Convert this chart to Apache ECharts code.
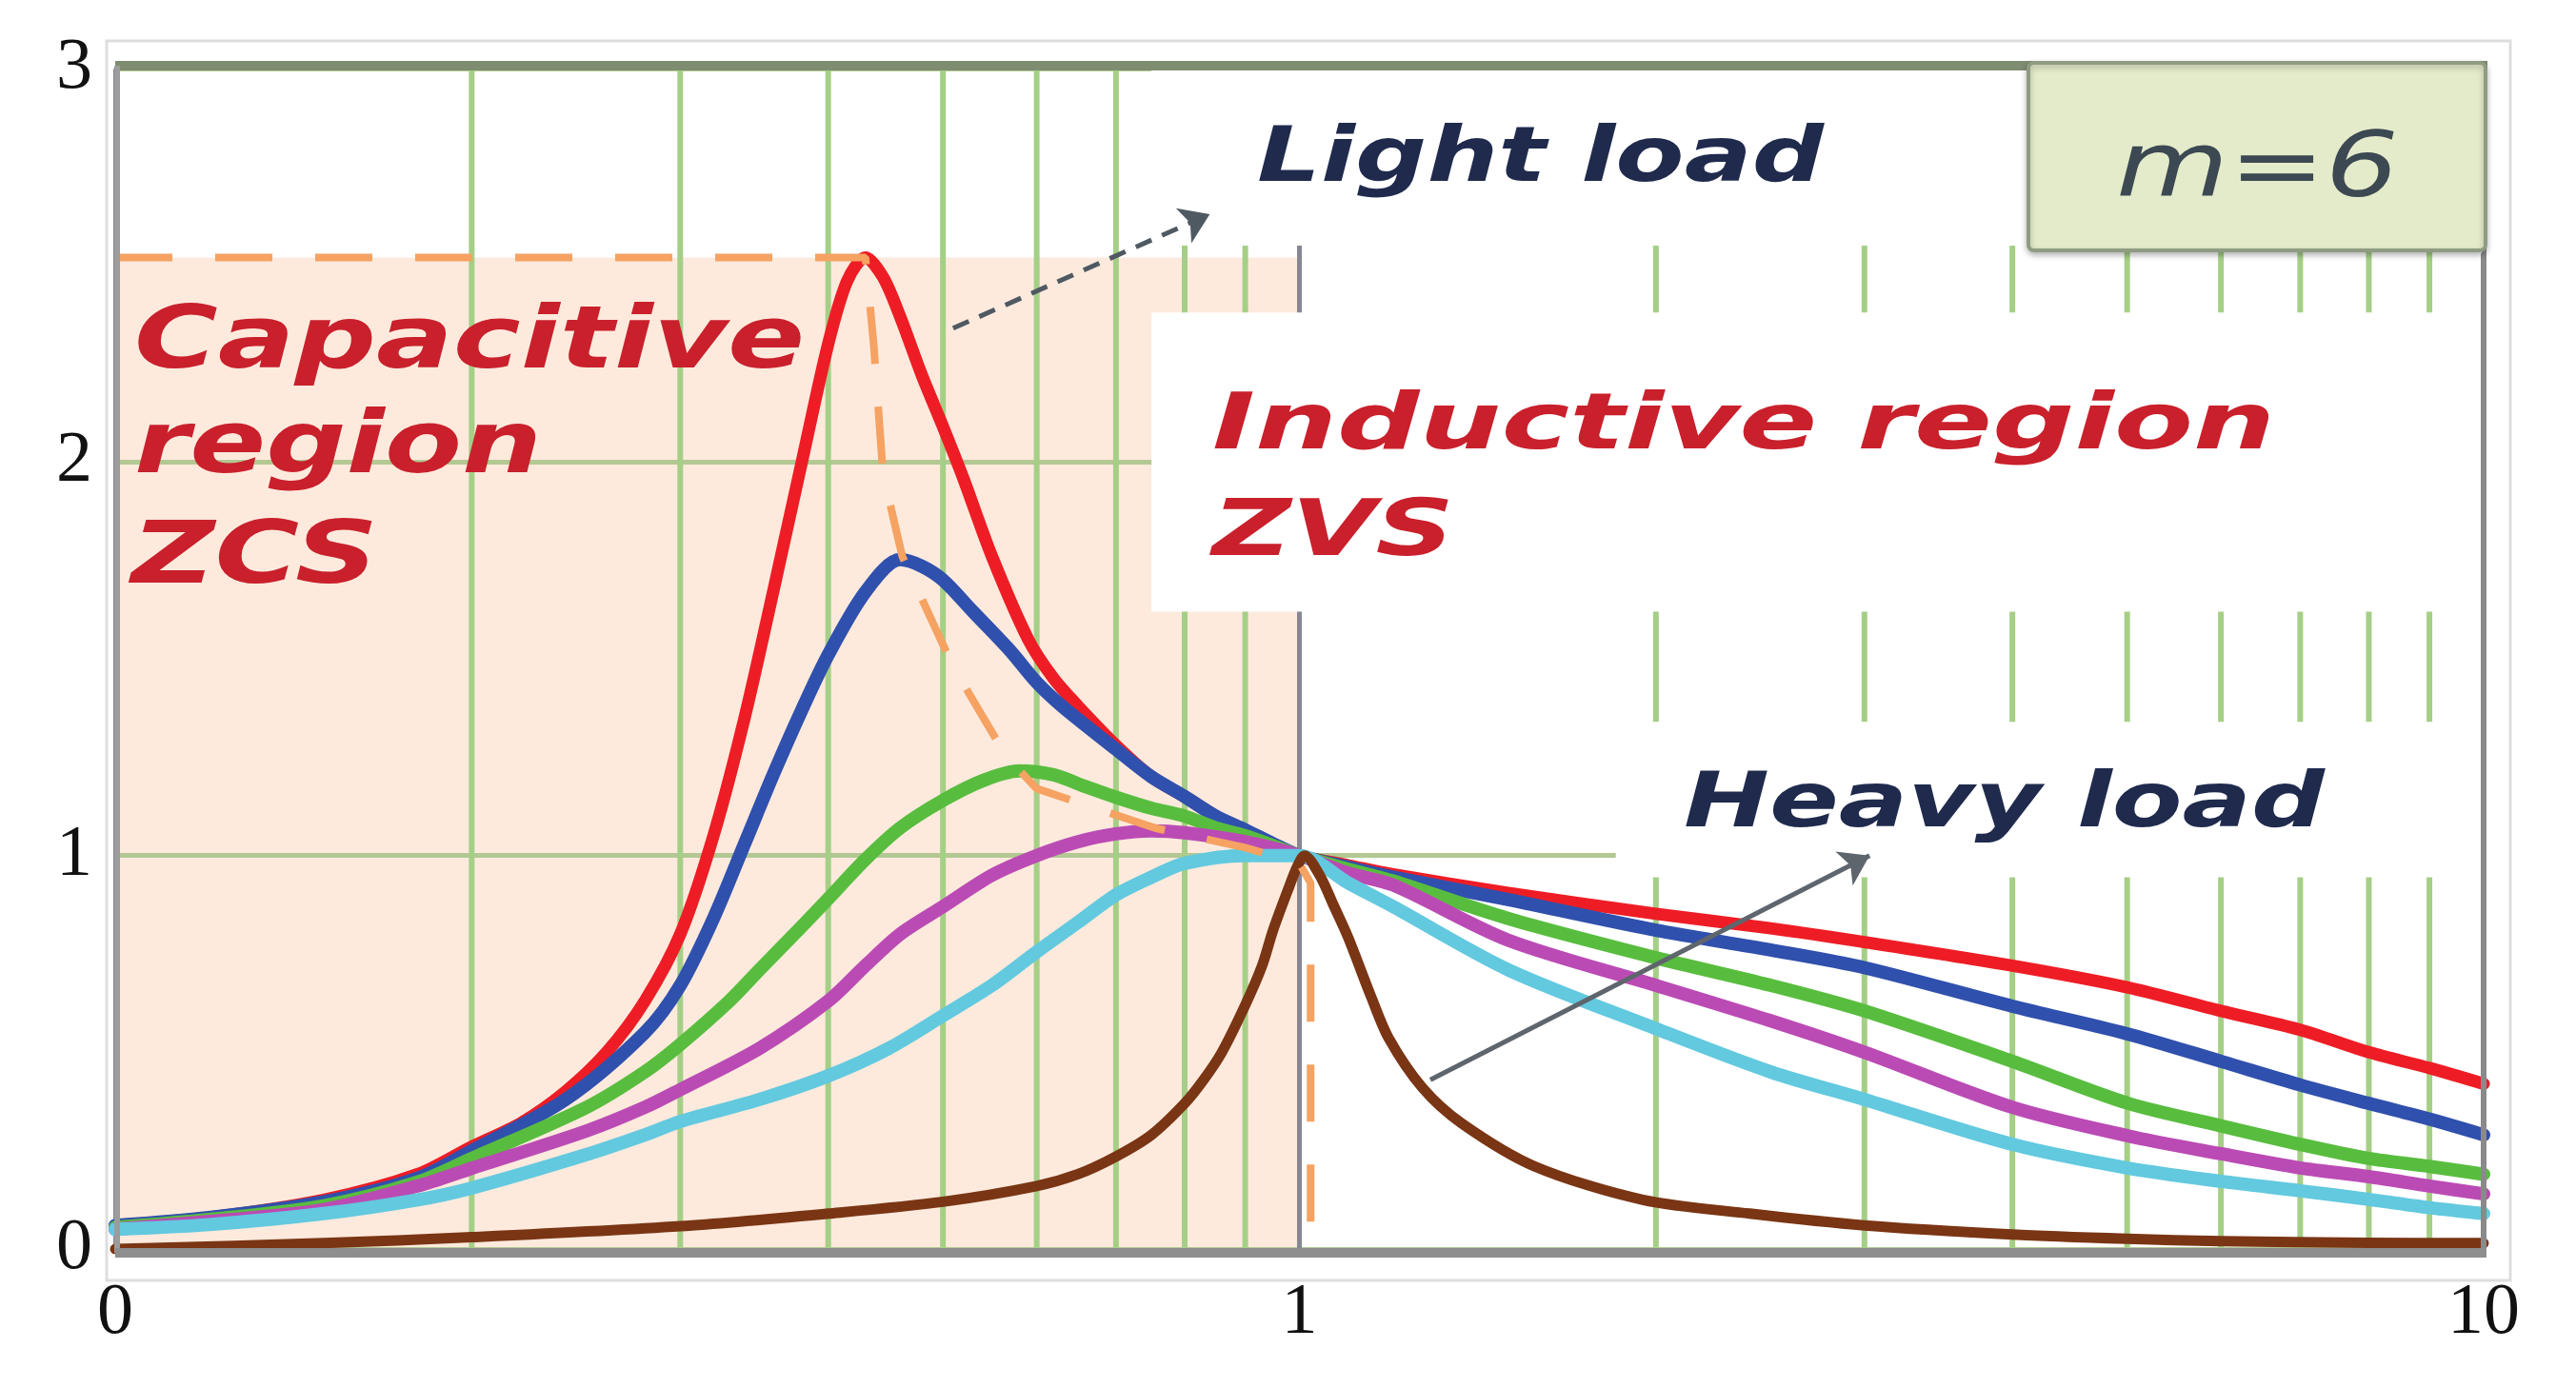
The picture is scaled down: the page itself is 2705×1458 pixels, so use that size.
<!DOCTYPE html>
<html>
<head>
<meta charset="utf-8">
<title>LLC gain curves, m=6</title>
<script src="https://cdn.jsdelivr.net/npm/echarts@6/dist/echarts.min.js"></script>
<style>
  html, body { margin: 0; padding: 0; background: #fff; }
  #chart { width: 2705px; height: 1458px; }
</style>
</head>
<body>
<div id="chart"></div>
<script>
// x: normalized switching frequency (log axis), y: voltage gain
// values
const xTicks = [0.1, 1, 10]
const xTickLabels = ['0', '1', '10']
const yTickLabels = ['0', '1', '2', '3']
const xMinorLines = [0.2, 0.3, 0.4, 0.5, 0.6, 0.7, 0.8, 0.9, 2, 3, 4, 5, 6, 7, 8, 9]

const redCurve = [
  [0.1, 0.06], [0.12, 0.08], [0.15, 0.125], [0.18, 0.19], [0.2, 0.26], [0.22, 0.32], [0.24, 0.4],
  [0.26, 0.5], [0.28, 0.63], [0.3, 0.8], [0.32, 1.05], [0.34, 1.35], [0.36, 1.68], [0.38, 2.0],
  [0.4, 2.3], [0.415, 2.46], [0.43, 2.52], [0.445, 2.47], [0.46, 2.37], [0.48, 2.22],
  [0.5, 2.09], [0.52, 1.96], [0.55, 1.76], [0.59, 1.55], [0.62, 1.45], [0.65, 1.38], [0.7, 1.28],
  [0.75, 1.2], [0.8, 1.15], [0.85, 1.1], [0.9, 1.065], [0.95, 1.03], [1, 1], [1.1, 0.975],
  [1.2, 0.952], [1.5, 0.905], [2, 0.852], [2.5, 0.815], [3, 0.78], [4, 0.72], [5, 0.665],
  [6, 0.605], [7, 0.557], [8, 0.5], [9, 0.46], [10, 0.42]
]
const blueCurve = [
  [0.1, 0.06], [0.12, 0.08], [0.15, 0.12], [0.18, 0.18], [0.2, 0.25], [0.24, 0.38], [0.28, 0.55],
  [0.3, 0.67], [0.32, 0.84], [0.34, 1.03], [0.36, 1.21], [0.38, 1.37], [0.4, 1.51], [0.43, 1.67],
  [0.46, 1.752], [0.48, 1.735], [0.5, 1.7], [0.53, 1.62], [0.57, 1.52], [0.6, 1.44], [0.63, 1.38],
  [0.7, 1.27], [0.75, 1.2], [0.8, 1.15], [0.85, 1.1], [0.9, 1.065], [0.95, 1.03], [1, 1],
  [1.1, 0.97], [1.2, 0.945], [1.5, 0.888], [2, 0.81], [2.5, 0.76], [3, 0.715], [4, 0.617],
  [5, 0.547], [6, 0.477], [7, 0.417], [8, 0.37], [9, 0.33], [10, 0.29]
]
const greenCurve = [
  [0.1, 0.055], [0.12, 0.075], [0.15, 0.11], [0.18, 0.17], [0.2, 0.23], [0.25, 0.36], [0.28, 0.45],
  [0.3, 0.52], [0.33, 0.63], [0.35, 0.71], [0.38, 0.82], [0.4, 0.89], [0.43, 0.99], [0.46, 1.07],
  [0.5, 1.14], [0.54, 1.19], [0.58, 1.215], [0.62, 1.205], [0.66, 1.175], [0.7, 1.148], [0.75, 1.12],
  [0.8, 1.1], [0.85, 1.07], [0.9, 1.05], [0.95, 1.025], [1, 1], [1.1, 0.965], [1.2, 0.935],
  [1.5, 0.84], [2, 0.74], [2.5, 0.67], [3, 0.605], [4, 0.477], [5, 0.371], [6, 0.313],
  [7, 0.266], [8, 0.23], [9, 0.21], [10, 0.19]
]
const magentaCurve = [
  [0.1, 0.05], [0.12, 0.07], [0.15, 0.1], [0.18, 0.16], [0.2, 0.205], [0.25, 0.3], [0.28, 0.36],
  [0.3, 0.405], [0.35, 0.51], [0.4, 0.63], [0.43, 0.72], [0.46, 0.8], [0.5, 0.87], [0.55, 0.95],
  [0.6, 1.0], [0.65, 1.035], [0.7, 1.055], [0.75, 1.063], [0.8, 1.058], [0.9, 1.035], [1, 1],
  [1.1, 0.955], [1.2, 0.925], [1.5, 0.785], [2, 0.67], [2.5, 0.58], [3, 0.5], [4, 0.36],
  [5, 0.288], [6, 0.242], [7, 0.206], [8, 0.184], [9, 0.16], [10, 0.14]
]
const cyanCurve = [
  [0.1, 0.05], [0.12, 0.062], [0.15, 0.09], [0.18, 0.125], [0.2, 0.155], [0.25, 0.24], [0.28, 0.29],
  [0.3, 0.324], [0.35, 0.38], [0.4, 0.44], [0.45, 0.51], [0.5, 0.593], [0.55, 0.67], [0.6, 0.755],
  [0.65, 0.83], [0.7, 0.9], [0.75, 0.945], [0.8, 0.98], [0.9, 1.0], [1, 1], [1.1, 0.93],
  [1.2, 0.87], [1.5, 0.71], [2, 0.56], [2.5, 0.45], [3, 0.38], [4, 0.266], [5, 0.206],
  [6, 0.172], [7, 0.148], [8, 0.126], [9, 0.105], [10, 0.09]
]
const brownCurve = [
  [0.1, 0.0], [0.15, 0.015], [0.2, 0.03], [0.3, 0.058], [0.4, 0.09], [0.5, 0.12], [0.6, 0.16],
  [0.65, 0.19], [0.7, 0.235], [0.75, 0.29], [0.8, 0.37], [0.83, 0.43], [0.86, 0.5], [0.9, 0.62],
  [0.93, 0.72], [0.95, 0.81], [0.98, 0.92], [0.995, 0.97], [1.01, 1.0], [1.04, 0.95], [1.07, 0.87],
  [1.1, 0.79], [1.15, 0.64], [1.19, 0.535], [1.27, 0.41], [1.37, 0.32], [1.58, 0.21],
  [1.95, 0.125], [2.4, 0.09], [3, 0.06], [4, 0.037], [5, 0.026], [6, 0.02], [8, 0.016], [10, 0.015]
]
// dashed orange line through the peaks (boundary between ZCS and ZVS)
const peakLocus = [
  [0.1, 2.52], [0.43, 2.52], [0.437, 2.3], [0.445, 1.97], [0.462, 1.76], [0.51, 1.48],
  [0.566, 1.25], [0.6, 1.17], [0.755, 1.07], [0.9, 1.02], [1.0, 0.98], [1.022, 0.93], [1.022, 0.05]
]
// annotation arrows [from, to]
const lightLoadArrow = [[0.51, 2.34], [0.84, 2.63]]
const heavyLoadArrow = [[1.29, 0.43], [3.03, 1.0]]

const chart = echarts.init(document.getElementById('chart'))

function curve(name, data, color, width) {
  return {
    name: name,
    type: 'line',
    data: data,
    smooth: 0.3,
    symbol: 'none',
    silent: true,
    lineStyle: { color: color, width: width, cap: 'round', join: 'round' }
  }
}

const option = {
  animation: false,
  backgroundColor: '#ffffff',
  grid: { left: 121, right: 97, top: 72, bottom: 146 },
  xAxis: {
    type: 'log',
    logBase: 10,
    min: 0.1,
    max: 10,
    axisLine: { show: false },
    axisTick: { show: false },
    axisLabel: {
      margin: 30,
      fontFamily: 'Liberation Serif',
      fontSize: 76,
      color: '#111',
      formatter: function (v) {
        const i = xTicks.findIndex(t => Math.abs(Math.log10(t) - Math.log10(v)) < 0.01)
        return i >= 0 ? xTickLabels[i] : ''
      }
    },
    splitLine: { show: true, lineStyle: { color: '#878793', width: 5 } }
  },
  yAxis: {
    type: 'value',
    min: 0,
    max: 3,
    interval: 1,
    axisLine: { show: false },
    axisTick: { show: false },
    axisLabel: {
      margin: 24,
      fontFamily: 'Liberation Serif',
      fontSize: 76,
      color: '#111',
      formatter: v => yTickLabels[Math.round(v)]
    },
    splitLine: { show: true, lineStyle: { color: '#b3c892', width: 5 } }
  },
  series: [
    curve('Light load', redCurve, '#ee1d25', 13),
    curve('Q2', blueCurve, '#3050ad', 14),
    curve('Q3', greenCurve, '#58bd3e', 14),
    curve('Q4', magentaCurve, '#bb4bb4', 14),
    curve('Q5', cyanCurve, '#62c9df', 14),
    curve('Heavy load', brownCurve, '#7a3514', 11),
    {
      name: 'Peak locus',
      type: 'line',
      data: peakLocus,
      symbol: 'none',
      silent: true,
      lineStyle: { color: '#f5a262', width: 8, type: [60, 45] },
      markLine: {
        silent: true,
        symbol: ['none', 'arrow'],
        symbolSize: 30,
        label: { show: false },
        data: [
          [
            { coord: lightLoadArrow[0], lineStyle: { color: '#4f5962', width: 5, type: [18, 12] }, itemStyle: { color: '#3e4a55' } },
            { coord: lightLoadArrow[1] }
          ],
          [
            { coord: heavyLoadArrow[0], lineStyle: { color: '#5e656c', width: 5, type: 'solid' }, itemStyle: { color: '#4a5560' } },
            { coord: heavyLoadArrow[1] }
          ]
        ]
      }
    }
  ]
}

chart.setOption(option)

// decorations placed through the chart's own scales
const px = (x, y) => chart.convertToPixel({ gridIndex: 0 }, [x, y])
function box(x0, y0, x1, y1) {
  const a = px(x0, y1)
  const b = px(x1, y0)
  return { x: a[0], y: a[1], width: b[0] - a[0], height: b[1] - a[1] }
}

const measureCtx = document.createElement('canvas').getContext('2d')
function label(text, font, fontSize, color, left, baseline, targetWidth) {
  measureCtx.font = font
  const w = measureCtx.measureText(text).width
  return {
    type: 'text',
    z: 20,
    x: left,
    y: baseline - 0.3 * fontSize,
    scaleX: targetWidth / w,
    silent: true,
    style: {
      text: text,
      font: font,
      fill: color,
      align: 'left',
      textAlign: 'left',
      verticalAlign: 'middle',
      textVerticalAlign: 'middle'
    }
  }
}

const yTop = px(0.1, 3)[1] - 3
const y0 = px(0.1, 0)[1]
const xL = px(0.1, 0)[0]
const xR = px(10, 0)[0]

const graphics = []
// capacitive region shading
graphics.push({ type: 'rect', z: -1, silent: true, shape: box(0.1, 0, 1, 2.52), style: { fill: '#fdeadd' } })
// minor log grid lines
xMinorLines.forEach(v => {
  const a = px(v, 0)
  graphics.push({ type: 'line', z: 0, silent: true, shape: { x1: a[0], y1: y0, x2: a[0], y2: yTop }, style: { stroke: '#a5cf86', lineWidth: 6 } })
})
// white backgrounds behind the text blocks
;[
  [0.75, 2.55, 10, 3.05],
  [0.75, 1.62, 10, 2.38],
  [1.85, 0.945, 10, 1.34]
].forEach(b => {
  graphics.push({ type: 'rect', z: 1, silent: true, shape: box(b[0], b[1], b[2], b[3]), style: { fill: '#ffffff' } })
})
// frame
graphics.push({ type: 'rect', z: 5, silent: true, shape: { x: 112, y: 43, width: 2524, height: 1302 }, style: { fill: 'none', stroke: '#dedede', lineWidth: 3 } })
graphics.push({ type: 'line', z: 6, silent: true, shape: { x1: xL, y1: yTop, x2: xR + 4, y2: yTop }, style: { stroke: '#7e8c70', lineWidth: 10 } })
graphics.push({ type: 'line', z: 6, silent: true, shape: { x1: xL + 2, y1: yTop, x2: xL + 2, y2: y0 + 4 }, style: { stroke: '#9c9c9c', lineWidth: 6 } })
graphics.push({ type: 'line', z: 6, silent: true, shape: { x1: xR, y1: px(10, 2.53)[1], x2: xR, y2: y0 + 4 }, style: { stroke: '#8a8a8a', lineWidth: 6 } })
graphics.push({ type: 'line', z: 6, silent: true, shape: { x1: xL, y1: y0 + 4, x2: xR + 3, y2: y0 + 4 }, style: { stroke: '#8e8e8e', lineWidth: 10 } })
// m=6 box
graphics.push({ type: 'rect', z: 18, silent: true, shape: { x: 2130, y: 66, width: 480, height: 197, r: 6 }, style: { fill: '#e4ebca', stroke: '#8f9c82', lineWidth: 4, shadowBlur: 6, shadowOffsetY: 3, shadowColor: 'rgba(0,0,0,0.25)' } })

const redText = '#c9202c'
const navyText = '#1f2a4d'
const boldItalic = fs => 'italic bold ' + fs + 'px "DejaVu Sans"'
graphics.push(label('Capacitive', boldItalic(90), 90, redText, 141, 390, 704))
graphics.push(label('region', boldItalic(90), 90, redText, 141, 500, 428))
graphics.push(label('ZCS', boldItalic(90), 90, redText, 138, 616, 259))
graphics.push(label('Inductive region', boldItalic(82), 82, redText, 1273, 474, 1116))
graphics.push(label('ZVS', boldItalic(82), 82, redText, 1273, 586, 254))
graphics.push(label('Light load', boldItalic(80), 80, navyText, 1320, 193, 595))
graphics.push(label('Heavy load', boldItalic(80), 80, navyText, 1768, 871, 673))
graphics.push(label('m=6', 'italic 95px "DejaVu Sans"', 95, '#3c4852', 2222, 210, 297))

chart.setOption({ graphic: graphics })
</script>
</body>
</html>
